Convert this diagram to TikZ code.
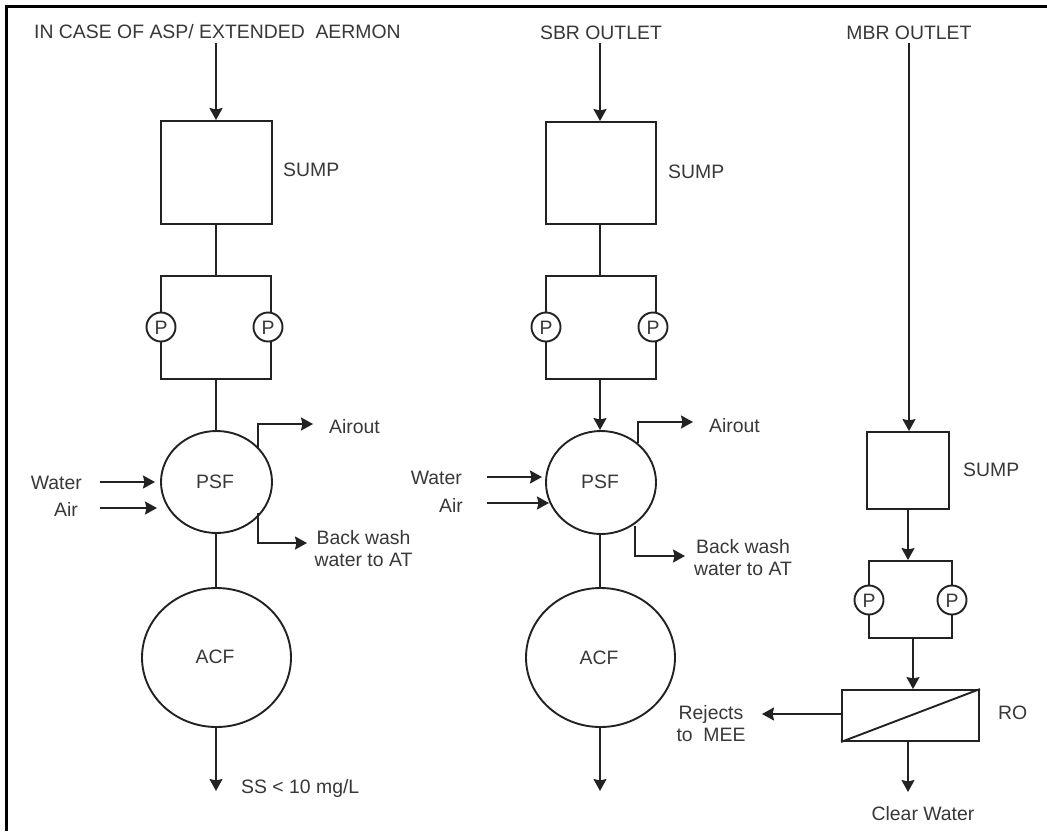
\documentclass[tikz,border=0pt]{standalone}
\usepackage{fontspec}
\setmainfont{Liberation Sans}
\usetikzlibrary{arrows.meta,shapes.geometric}
\definecolor{ink}{HTML}{222222}
\definecolor{txt}{HTML}{383838}
\tikzset{
 ln/.style={line width=1.9pt,draw=ink},
 arr/.style={ln,-{Stealth[length=12pt,width=13pt,inset=1.5pt]}},
 lbl/.style={text=txt,font=\fontsize{19.4}{22}\selectfont,inner sep=0pt,text height=14pt,text depth=0pt},
 lblii/.style={text=txt,font=\fontsize{19.4}{22}\selectfont,inner sep=0pt,align=center},
 boxn/.style={ln,rectangle,inner sep=0pt},
 vessel/.style={ln,ellipse,inner sep=0pt},
 pump/.style={ln,circle,inner sep=0pt,fill=white,minimum size=29pt}
}
\begin{document}
\begin{tikzpicture}[x=1pt,y=-1pt]
\useasboundingbox (0,0) rectangle (1047,831);
\fill[white] (0,0) rectangle (1047,831);
% frame: only top and left edges show
\coordinate (ftr) at (1047,6.7);
\coordinate (ftl) at (6.5,6.7);
\coordinate (fbl) at (6.5,831);
\draw[black,line width=3.4pt] (ftr) -- (ftl) -- (fbl);
% Column 1
\node[lbl,anchor=west] (t1) at (34,31) {IN CASE OF ASP/ EXTENDED\ \ AERMON};
\coordinate (s1) at (216,43);
\node[boxn,minimum width=111pt,minimum height=103pt] (sump1) at (216.5,172.5) {};
\node[lbl,anchor=west] (sl1) at (283,169) {SUMP};
\draw[arr] (s1) -- (s1 |- sump1.north);
\node[boxn,minimum width=110pt,minimum height=103pt] (pb1) at (216,327.5) {};
\draw[ln] (sump1.south -| s1) -- (s1 |- pb1.north);
\node[pump] (p1a) at (161,327) {};
\node[lbl] at (p1a) {P};
\node[pump] (p1b) at (268,327) {};
\node[lbl] at (p1b) {P};
\node[vessel,minimum width=111pt,minimum height=102pt] (psf1) at (216.5,482) {};
\node[lbl] (psfl1) at (215,481) {PSF};
\draw[ln] (s1 |- pb1.south) -- (s1 |- psf1.north);
\coordinate (w1) at (100,482);
\coordinate (we1) at (155,482);
\coordinate (a1) at (100,508);
\coordinate (ae1) at (157,508);
\node[lbl,anchor=east] (wl1) at (82,482) {Water};
\node[lbl,anchor=east] (al1) at (78,509) {Air};
\draw[arr] (w1) -- (we1);
\draw[arr] (a1) -- (ae1);
\coordinate (aos1) at (258,448);
\coordinate (ao1) at (313,424);
\draw[arr] (aos1) |- (ao1);
\node[lbl,anchor=west] (aol1) at (329,426) {Airout};
\coordinate (bws1) at (258,513);
\coordinate (bw1) at (307,543);
\draw[arr] (bws1) |- (bw1);
\node[lblii] (bwl1) at (363.5,549) {Back wash\\water to AT};
\node[vessel,minimum width=149pt,minimum height=139pt] (acf1) at (216.5,657.5) {};
\node[lbl] (acfl1) at (215,656) {ACF};
\draw[ln] (s1 |- psf1.south) -- (s1 |- acf1.north);
\coordinate (e1) at (216,791);
\draw[arr] (s1 |- acf1.south) -- (e1);
\node[lbl,anchor=west] (ss) at (241,786) {SS < 10 mg/L};
% Column 2
\node[lbl] (t2) at (601,32) {SBR OUTLET};
\coordinate (s2) at (600,43);
\node[boxn,minimum width=110pt,minimum height=102pt] (sump2) at (601,173) {};
\node[lbl,anchor=west] (sl2) at (668,171) {SUMP};
\draw[arr] (s2) -- (s2 |- sump2.north);
\node[boxn,minimum width=110pt,minimum height=103pt] (pb2) at (601,327.5) {};
\draw[ln] (s2 |- sump2.south) -- (s2 |- pb2.north);
\node[pump] (p2a) at (546,327) {};
\node[lbl] at (p2a) {P};
\node[pump] (p2b) at (653,327) {};
\node[lbl] at (p2b) {P};
\node[vessel,minimum width=110pt,minimum height=103pt] (psf2) at (601,482.5) {};
\node[lbl] (psfl2) at (600,481) {PSF};
\draw[arr] (s2 |- pb2.south) -- (s2 |- psf2.north);
\coordinate (w2) at (487,477);
\coordinate (we2) at (542,477);
\coordinate (a2) at (487,503);
\coordinate (ae2) at (549,503);
\node[lbl,anchor=east] (wl2) at (462,477) {Water};
\node[lbl,anchor=east] (al2) at (463,505) {Air};
\draw[arr] (w2) -- (we2);
\draw[arr] (a2) -- (ae2);
\coordinate (aos2) at (638,443);
\coordinate (ao2) at (693,422);
\draw[arr] (aos2) |- (ao2);
\node[lbl,anchor=west] (aol2) at (709,425) {Airout};
\coordinate (bws2) at (635,526);
\coordinate (bw2) at (685,556);
\draw[arr] (bws2) |- (bw2);
\node[lblii] (bwl2) at (743,558) {Back wash\\water to AT};
\node[vessel,minimum width=149pt,minimum height=139pt] (acf2) at (600.5,657.5) {};
\node[lbl] (acfl2) at (599,657) {ACF};
\draw[ln] (s2 |- psf2.south) -- (s2 |- acf2.north);
\coordinate (e2) at (600,791);
\draw[arr] (s2 |- acf2.south) -- (e2);
% Column 3
\node[lbl] (t3) at (909,32) {MBR OUTLET};
\coordinate (s3) at (909,43);
\node[boxn,minimum width=82pt,minimum height=77pt] (sump3) at (908,470.5) {};
\node[lbl,anchor=west] (sl3) at (963,469) {SUMP};
\draw[arr] (s3) -- (s3 |- sump3.north);
\node[boxn,minimum width=83pt,minimum height=77pt] (pb3) at (910.5,599.5) {};
\draw[arr] (sump3.south) -- (sump3.south |- pb3.north);
\node[pump] (p3a) at (869,600) {};
\node[lbl] at (p3a) {P};
\node[pump] (p3b) at (952,600) {};
\node[lbl] at (p3b) {P};
\node[boxn,minimum width=137pt,minimum height=51pt] (ro) at (910.5,715.5) {};
\draw[ln] (ro.south west) -- (ro.north east);
\node[lbl,anchor=west] (rol) at (998,712) {RO};
\coordinate (pbo3) at (913,638);
\draw[arr] (pbo3) -- (pbo3 |- ro.north);
\coordinate (rj) at (762,714);
\draw[arr] (ro.west |- rj) -- (rj);
\node[lblii] (rjl) at (711,724) {Rejects\\to\ \ MEE};
\coordinate (cw) at (908,792);
\draw[arr] (cw |- ro.south) -- (cw);
\node[lbl] (cwl) at (923,813) {Clear Water};
\end{tikzpicture}
\end{document}
